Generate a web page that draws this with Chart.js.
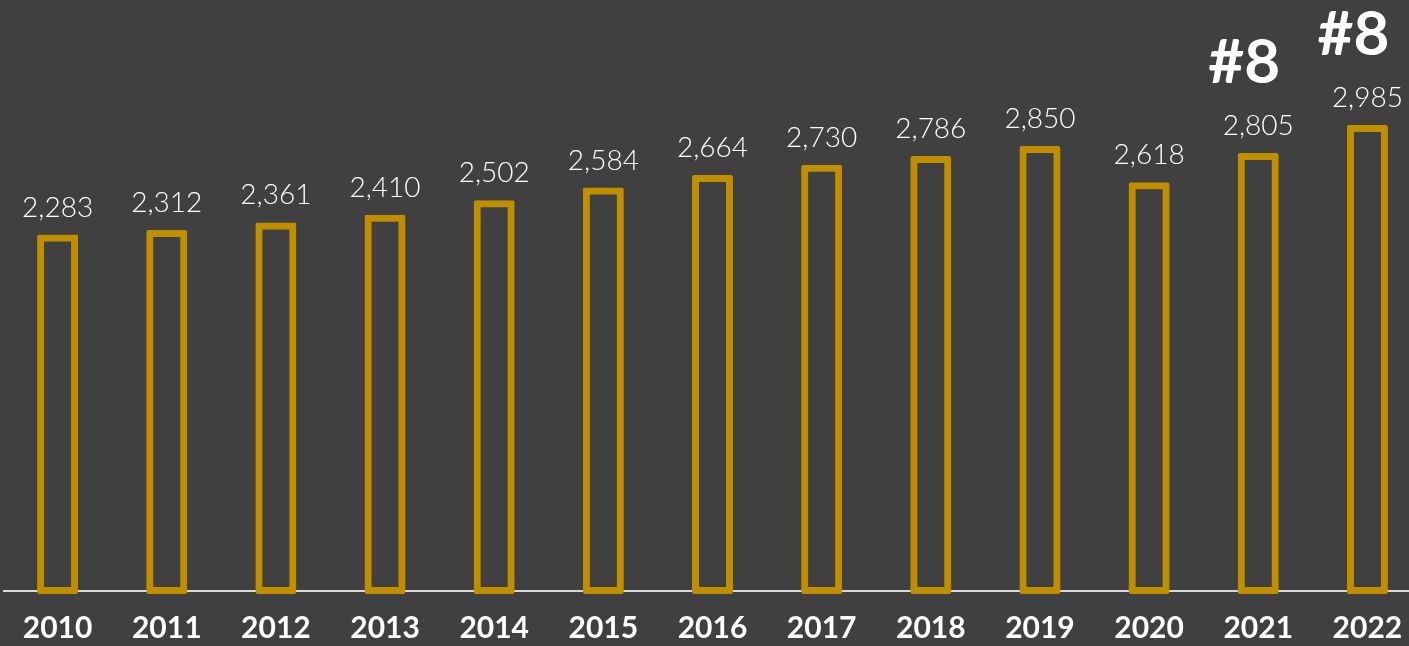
<!DOCTYPE html>
<html>
<head>
<meta charset="utf-8">
<script src="https://cdn.jsdelivr.net/npm/chart.js"></script>
<style>
  html, body { margin: 0; padding: 0; background: #404040; overflow: hidden; }
  #wrap { width: 1422px; height: 646px; }
</style>
</head>
<body>
<div id="wrap"><canvas id="chart" width="1422" height="646"></canvas></div>
<script>
  const years = ['2010', '2011', '2012', '2013', '2014', '2015', '2016', '2017', '2018', '2019', '2020', '2021', '2022'];
  const values = [2283, 2312, 2361, 2410, 2502, 2584, 2664, 2730, 2786, 2850, 2618, 2805, 2985];
  const ranks = ['', '', '', '', '', '', '', '', '', '', '', '#8', '#8'];

  const GOLD = '#bf8f00';

  // value labels and rank marks above the bars
  const barLabels = {
    id: 'barLabels',
    afterDatasetsDraw(chart) {
      const ctx = chart.ctx;
      const meta = chart.getDatasetMeta(0);
      ctx.save();
      ctx.fillStyle = '#ffffff';
      ctx.textAlign = 'center';
      ctx.textBaseline = 'alphabetic';
      meta.data.forEach((bar, i) => {
        ctx.font = '300 28px Lato';
        ctx.fillText(values[i].toLocaleString('en-US'), bar.x, bar.y - 18);
        if (ranks[i]) {
          ctx.font = 'bold 62px Lato';
          ctx.fillText(ranks[i], bar.x - 14, bar.y - 70);
        }
      });
      ctx.restore();
    }
  };

  new Chart(document.getElementById('chart').getContext('2d'), {
    type: 'bar',
    data: {
      labels: years,
      datasets: [{
        data: values,
        base: -20,
        backgroundColor: 'rgba(0,0,0,0)',
        borderColor: GOLD,
        borderWidth: 7,
        borderRadius: 2,
        borderSkipped: false,
        barPercentage: 0.3756,
        categoryPercentage: 1
      }]
    },
    options: {
      responsive: false,
      animation: false,
      layout: { padding: { top: 29, left: 3, right: 0, bottom: 0 } },
      plugins: {
        legend: { display: false },
        tooltip: { enabled: false }
      },
      scales: {
        x: {
          afterFit: function (scale) {
            scale.height = 52;
          },
          grid: { display: false, drawTicks: false },
          border: { display: false },
          ticks: {
            color: '#ffffff',
            padding: 16,
            maxRotation: 0,
            autoSkip: false,
            font: { family: 'Lato', size: 30, weight: 'bold' }
          }
        },
        y: {
          min: -20,
          max: 3600,
          z: 1,
          afterBuildTicks: function (scale) {
            scale.ticks = [{ value: 0 }];
          },
          afterFit: function (scale) {
            scale.width = 0;
          },
          ticks: { display: false },
          border: { display: false },
          grid: { color: '#d9d9d9', lineWidth: 2, drawTicks: false }
        }
      }
    },
    plugins: [barLabels]
  });
</script>
</body>
</html>
